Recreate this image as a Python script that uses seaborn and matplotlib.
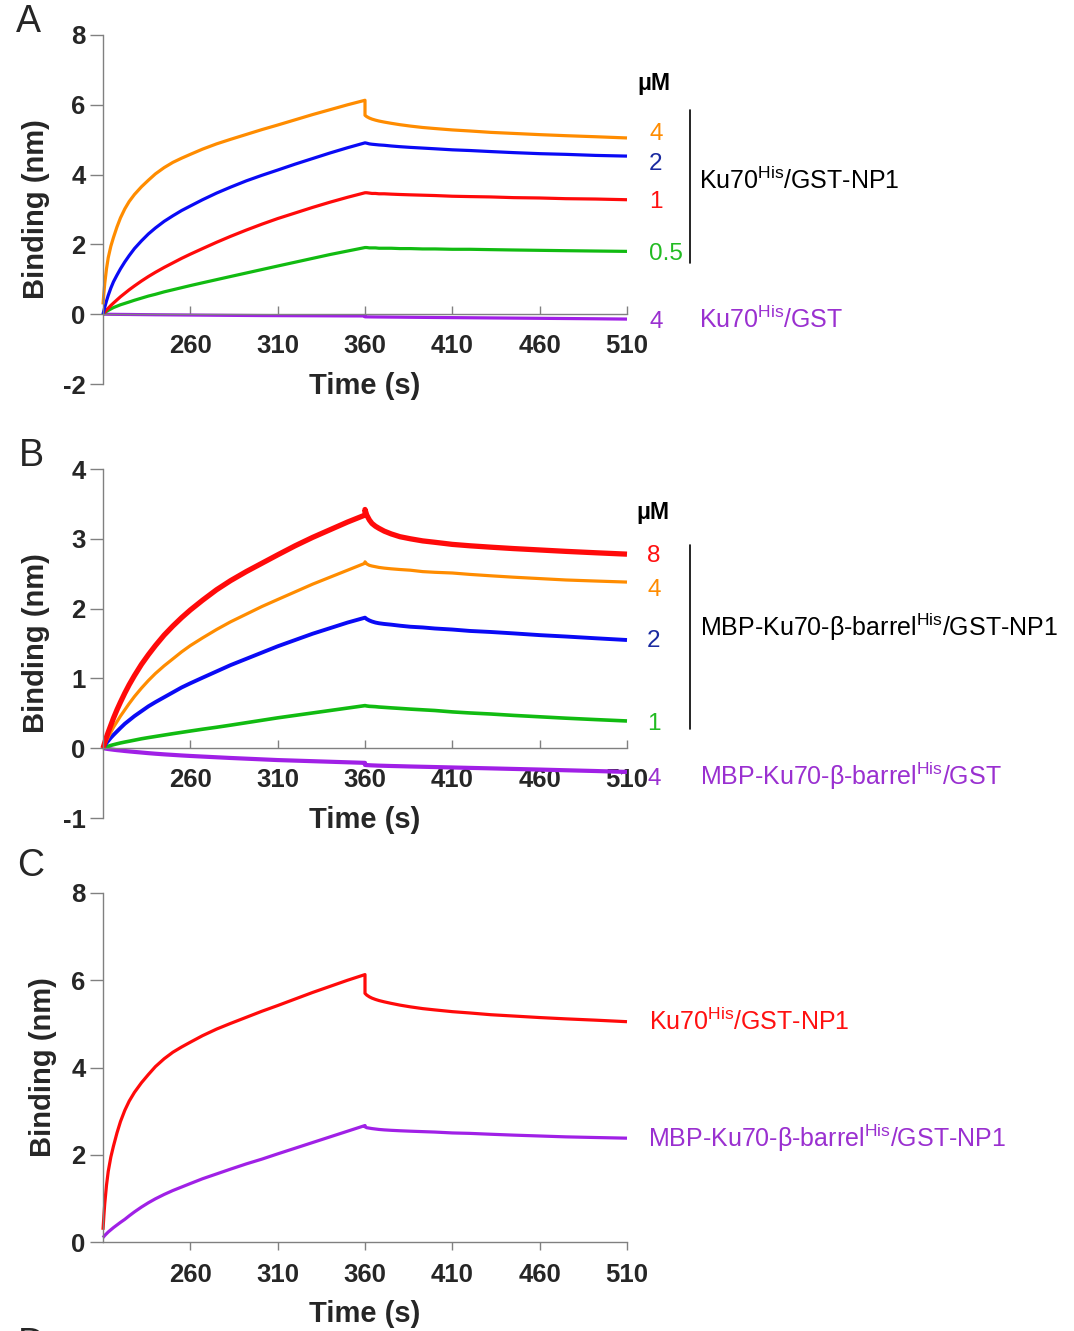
import pandas as pd
import matplotlib
matplotlib.use('Agg')
import matplotlib.pyplot as plt
from matplotlib.lines import Line2D
import seaborn as sns

# time grid (s): association up to 360 s, then dissociation (360 listed twice for the jump)
t_assoc = [210, 210.5, 211, 212, 213, 214.5, 216, 218, 220, 222.5, 225, 228, 232, 236, 240,
           245, 250, 255, 260, 267, 275, 283, 292, 301, 310, 320, 330, 340, 350, 360]
t_dissoc = [360, 361, 362.5, 364, 366, 368, 371, 375, 380, 386, 393, 400, 410, 420, 432,
            445, 460, 475, 492, 510]
time = t_assoc + t_dissoc

# panel A: Ku70His / GST-NP1 (uM) and Ku70His / GST
ku70_np1_4 = [0.28, 0.6, 0.88, 1.3, 1.62, 1.95, 2.2, 2.5, 2.76, 3.02, 3.23, 3.43, 3.65, 3.84, 4.02,
              4.2, 4.35, 4.47, 4.58, 4.73, 4.88, 5.01, 5.15, 5.29, 5.42, 5.57, 5.72, 5.86, 6.0, 6.13,
              5.7, 5.66, 5.62, 5.59, 5.56, 5.535, 5.505, 5.47, 5.43, 5.39, 5.35, 5.32, 5.28, 5.25, 5.21,
              5.18, 5.145, 5.115, 5.085, 5.05]
ku70_np1_2 = [0, 0.1, 0.2, 0.38, 0.54, 0.75, 0.93, 1.12, 1.3, 1.5, 1.68, 1.88, 2.1, 2.3, 2.47,
              2.66, 2.82, 2.97, 3.1, 3.28, 3.47, 3.64, 3.82, 3.98, 4.13, 4.3, 4.46, 4.62, 4.77, 4.91,
              4.91, 4.9, 4.88, 4.87, 4.86, 4.85, 4.84, 4.82, 4.8, 4.78, 4.76, 4.74, 4.71, 4.69, 4.66,
              4.63, 4.6, 4.58, 4.55, 4.53]
ku70_np1_1 = [0, 0.03, 0.06, 0.12, 0.17, 0.25, 0.32, 0.41, 0.5, 0.6, 0.7, 0.81, 0.95, 1.08, 1.2,
              1.34, 1.47, 1.6, 1.72, 1.88, 2.06, 2.23, 2.41, 2.58, 2.74, 2.9, 3.06, 3.21, 3.35, 3.48,
              3.48, 3.48, 3.47, 3.46, 3.46, 3.45, 3.45, 3.44, 3.43, 3.42, 3.41, 3.4, 3.38, 3.37, 3.36,
              3.34, 3.33, 3.31, 3.3, 3.28]
ku70_np1_05 = [0, 0.02, 0.045, 0.08, 0.11, 0.15, 0.19, 0.23, 0.27, 0.31, 0.35, 0.4, 0.46, 0.52, 0.57,
               0.64, 0.7, 0.76, 0.82, 0.9, 0.99, 1.08, 1.18, 1.28, 1.38, 1.49, 1.6, 1.71, 1.81, 1.91,
               1.91, 1.91, 1.9, 1.9, 1.9, 1.89, 1.89, 1.89, 1.88, 1.88, 1.87, 1.87, 1.86, 1.86, 1.85,
               1.84, 1.83, 1.82, 1.81, 1.8]
ku70_gst_4 = [0, 0, 0, 0, -0.002, -0.003, -0.004, -0.005, -0.006, -0.007, -0.008, -0.01, -0.012, -0.014, -0.016,
              -0.018, -0.02, -0.022, -0.024, -0.027, -0.03, -0.033, -0.036, -0.039, -0.041, -0.043, -0.045,
              -0.047, -0.049, -0.05,
              -0.075, -0.076, -0.077, -0.078, -0.079, -0.08, -0.081, -0.083, -0.085, -0.088, -0.091, -0.094,
              -0.098, -0.102, -0.107, -0.112, -0.118, -0.124, -0.131, -0.14]

# panel B: MBP-Ku70-beta-barrelHis / GST-NP1 (uM) and / GST
barrel_np1_8 = [0, 0.04, 0.08, 0.16, 0.23, 0.33, 0.43, 0.55, 0.66, 0.79, 0.91, 1.04, 1.2, 1.34, 1.47,
                1.62, 1.75, 1.87, 1.98, 2.12, 2.27, 2.4, 2.53, 2.65, 2.77, 2.9, 3.02, 3.13, 3.24, 3.34,
                3.42, 3.34, 3.27, 3.22, 3.18, 3.15, 3.11, 3.07, 3.03, 3.0, 2.97, 2.95, 2.92, 2.9, 2.88,
                2.86, 2.84, 2.82, 2.8, 2.78]
barrel_np1_4 = [0, 0.03, 0.06, 0.11, 0.16, 0.23, 0.3, 0.38, 0.46, 0.55, 0.64, 0.74, 0.86, 0.97, 1.07,
                1.18, 1.28, 1.38, 1.47, 1.58, 1.7, 1.81, 1.92, 2.03, 2.13, 2.24, 2.35, 2.45, 2.55, 2.65,
                2.67, 2.64, 2.62, 2.61, 2.6, 2.59, 2.58, 2.57, 2.56, 2.55, 2.53, 2.52, 2.51, 2.49, 2.47,
                2.45, 2.43, 2.41, 2.395, 2.38]
barrel_np1_2 = [0, 0.02, 0.04, 0.075, 0.105, 0.15, 0.19, 0.24, 0.29, 0.35, 0.4, 0.46, 0.53, 0.6, 0.66,
                0.73, 0.8, 0.87, 0.93, 1.01, 1.1, 1.19, 1.28, 1.37, 1.46, 1.55, 1.64, 1.72, 1.8, 1.87,
                1.87, 1.85, 1.83, 1.815, 1.8, 1.79, 1.78, 1.77, 1.755, 1.74, 1.73, 1.715, 1.7, 1.68, 1.665,
                1.645, 1.62, 1.6, 1.575, 1.55]
barrel_np1_1 = [0, 0.005, 0.01, 0.02, 0.028, 0.04, 0.05, 0.063, 0.075, 0.088, 0.1, 0.115, 0.135, 0.152, 0.168,
                0.188, 0.208, 0.227, 0.246, 0.272, 0.3, 0.33, 0.365, 0.4, 0.435, 0.47, 0.505, 0.54, 0.575, 0.61,
                0.61, 0.605, 0.6, 0.598, 0.595, 0.59, 0.585, 0.578, 0.57, 0.56, 0.55, 0.54, 0.52, 0.505, 0.49,
                0.47, 0.45, 0.43, 0.41, 0.39]
barrel_gst_4 = [0, -0.002, -0.004, -0.008, -0.012, -0.017, -0.022, -0.028, -0.033, -0.04, -0.046, -0.053,
                -0.062, -0.071, -0.079, -0.088, -0.096, -0.104, -0.111, -0.12, -0.13, -0.14, -0.15, -0.16,
                -0.17, -0.178, -0.186, -0.194, -0.202, -0.21,
                -0.24, -0.242, -0.244, -0.246, -0.248, -0.25, -0.252, -0.255, -0.258, -0.262, -0.266, -0.27,
                -0.276, -0.282, -0.289, -0.297, -0.306, -0.316, -0.327, -0.34]

# panel C: comparison of the two constructs on GST-NP1
c_barrel_np1 = [0.1, 0.125, 0.15, 0.19, 0.23, 0.28, 0.33, 0.39, 0.45, 0.52, 0.6, 0.69, 0.8, 0.9, 0.99,
                1.09, 1.18, 1.26, 1.34, 1.45, 1.56, 1.67, 1.79, 1.9, 2.02, 2.15, 2.28, 2.41, 2.54, 2.67,
                2.64, 2.62, 2.61, 2.6, 2.59, 2.58, 2.57, 2.56, 2.55, 2.54, 2.53, 2.52, 2.5, 2.49, 2.47,
                2.45, 2.43, 2.41, 2.395, 2.38]

xticks = [260, 310, 360, 410, 460, 510]

ORANGE = '#FF8C00'
BLUE = '#0A0AF5'
RED = '#FF0A0A'
GREEN = '#11BB11'
PURPLE = '#A020E6'

sns.set_style('ticks')
plt.rcParams['font.family'] = ['Liberation Sans', 'DejaVu Sans']
plt.rcParams['mathtext.fontset'] = 'custom'
plt.rcParams['mathtext.rm'] = 'Liberation Sans'
plt.rcParams['mathtext.bf'] = 'Liberation Sans:bold'
plt.rcParams['axes.unicode_minus'] = False

W, H = 1074, 1331
fig = plt.figure(figsize=(W / 100, H / 100), dpi=100)


def fx(x):
    return x / W


def fy(y):
    return 1 - y / H


def style_axis(ax, ylim, yticks, tick_in):
    gray = '#808080'
    sns.despine(ax=ax)
    for s in ['left', 'bottom']:
        ax.spines[s].set_color(gray)
        ax.spines[s].set_linewidth(1.0)
    ax.set_xlim(210, 510)
    ax.set_ylim(*ylim)
    ax.set_xticks(xticks)
    ax.set_yticks(yticks)
    ax.tick_params(axis='y', direction='out', length=9.5, width=1, color=gray, pad=3, labelsize=18.5)
    if tick_in:
        ax.spines['bottom'].set_position(('data', 0))
        ax.tick_params(axis='x', direction='in', length=6, width=1, color=gray, pad=14.5, labelsize=18.5)
    else:
        ax.tick_params(axis='x', direction='out', length=6, width=1, color=gray, pad=9, labelsize=18.5)
    for lab in ax.get_xticklabels() + ax.get_yticklabels():
        lab.set_fontweight('bold')
    ax.set_xlabel('Time (s)', fontsize=21, fontweight='bold', va='center')
    ax.set_ylabel('Binding (nm)', fontsize=21, fontweight='bold', va='center')
    ax.patch.set_alpha(0)


def draw(ax, series):
    for vals, col, lw in series:
        sns.lineplot(x=time, y=vals, ax=ax, color=col, lw=lw, estimator=None, sort=False,
                     clip_on=False, solid_capstyle='butt', solid_joinstyle='round')


# ---------------- panel A ----------------
axA = fig.add_axes([fx(103), fy(384), fx(524), 349 / H])
draw(axA, [(ku70_gst_4, PURPLE, 2.3), (ku70_np1_05, GREEN, 2.3), (ku70_np1_1, RED, 2.3),
           (ku70_np1_2, BLUE, 2.3), (ku70_np1_4, ORANGE, 2.3)])
style_axis(axA, (-2, 8), [-2, 0, 2, 4, 6, 8], True)
axA.xaxis.set_label_coords(0.5, -0.006)
axA.yaxis.set_label_coords(-0.127, 0.5)

# ---------------- panel B ----------------
axB = fig.add_axes([fx(103), fy(818), fx(524), 349 / H])
draw(axB, [(barrel_gst_4, PURPLE, 3.0), (barrel_np1_1, GREEN, 2.6), (barrel_np1_2, BLUE, 2.8),
           (barrel_np1_4, ORANGE, 2.3), (barrel_np1_8, RED, 3.8)])
style_axis(axB, (-1, 4), [-1, 0, 1, 2, 3, 4], True)
axB.xaxis.set_label_coords(0.5, -0.006)
axB.yaxis.set_label_coords(-0.127, 0.5)

# ---------------- panel C ----------------
axC = fig.add_axes([fx(103), fy(1242), fx(524), 349 / H])
draw(axC, [(c_barrel_np1, PURPLE, 2.3), (ku70_np1_4, RED, 2.3)])
style_axis(axC, (0, 8), [0, 2, 4, 6, 8], False)
axC.xaxis.set_label_coords(0.5, -0.205)
axC.yaxis.set_label_coords(-0.115, 0.5)

# ---------------- annotations ----------------
for letter, x, y in [('A', 28, 22), ('B', 31, 456), ('C', 31, 866), ('D', 31, 1345)]:
    fig.text(fx(x), fy(y), letter, fontsize=27, ha='center', va='center')


def note(x, y, s, color='black', size=17.5, weight='normal'):
    # y is the visual middle of the capitals; place by baseline
    fig.text(fx(x), fy(y + 0.36 * size * 100 / 72), s, color=color, fontsize=size,
             fontweight=weight, ha='left', va='baseline')


def bracket(x, y0, y1):
    fig.add_artist(Line2D([fx(x), fx(x)], [fy(y0), fy(y1)], color='black', lw=1.2))


ku70 = r'Ku70$^{\mathrm{His}}$'
barrel = r'MBP-Ku70-β-barrel$^{\mathrm{His}}$'
NUM_PURPLE = '#9A30D0'
NUM_BLUE = '#1A2AA0'
NUM_RED = '#FF1010'
NUM_GREEN = '#22BB22'

# A
note(637, 82, 'μM', size=16.5, weight='bold')
note(649, 131, '4', ORANGE)
note(649, 161, '2', NUM_BLUE)
note(649, 199, '1', NUM_RED)
note(649, 251, '0.5', NUM_GREEN)
note(649, 319, '4', NUM_PURPLE)
bracket(690, 110, 263)
note(699, 180, ku70 + '/GST-NP1', size=18)
note(699, 319, ku70 + '/GST', NUM_PURPLE, size=18)

# B
note(636, 511, 'μM', size=16.5, weight='bold')
note(647, 553, '8', NUM_RED)
note(647, 587, '4', ORANGE)
note(647, 638, '2', NUM_BLUE)
note(647, 721, '1', NUM_GREEN)
note(647, 776, '4', NUM_PURPLE)
bracket(690, 545, 729)
note(700, 627, barrel + '/GST-NP1', size=18)
note(700, 776, barrel + '/GST', NUM_PURPLE, size=18)

# C
note(649, 1021, ku70 + '/GST-NP1', NUM_RED, size=18)
note(648, 1138, barrel + '/GST-NP1', NUM_PURPLE, size=18)

fig.savefig('out.png', dpi=100)
